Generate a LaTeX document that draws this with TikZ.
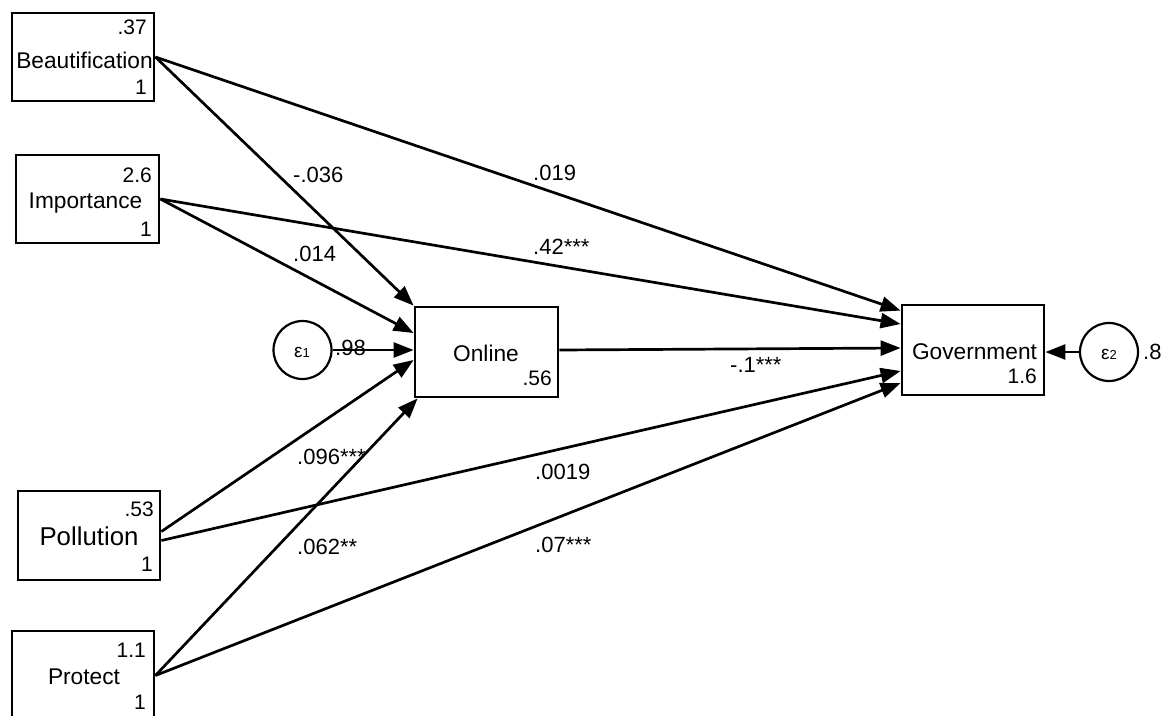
\documentclass[tikz,border=0pt]{standalone}
\usepackage{fontspec}
\setmainfont{Liberation Sans}
\usetikzlibrary{arrows.meta,calc}
\begin{document}
\begin{tikzpicture}[x=1pt,y=-1pt,
  box/.style={draw,line width=2.8pt,minimum width=#1,minimum height=89pt,inner sep=0pt},
  circ/.style={draw,circle,line width=2.2pt,minimum size=58pt,inner sep=0pt},
  arr/.style={line width=2.7pt,-{Triangle[length=20pt,width=15pt]}},
  vname/.style={anchor=base,inner sep=0pt,font=\fontsize{22.7}{25}\selectfont},
  bigvname/.style={anchor=base,inner sep=0pt,font=\fontsize{25.8}{28}\selectfont},
  topnum/.style={anchor=north east,inner sep=0pt,font=\fontsize{21}{23}\selectfont},
  botnum/.style={anchor=south east,inner sep=0pt,font=\fontsize{21}{23}\selectfont},
  lab/.style={anchor=base west,inner sep=0pt,font=\fontsize{22}{24}\selectfont},
  epstxt/.style={inner sep=0pt,font=\fontsize{19}{19}\selectfont}]
\useasboundingbox (0,0) rectangle (1164,715);
\clip (0,0) rectangle (1164,715);
\fill[white] (0,0) rectangle (1164,715);

% boxes
\node[box=142pt,minimum height=88pt] (beau) at (83,57) {};
\node[box=143pt,minimum height=88pt] (imp) at (87.5,199) {};
\node[box=142pt] (pol) at (89,535.5) {};
\node[box=142pt] (pro) at (83,675.5) {};
\node[box=143pt,minimum height=90pt] (onl) at (486.5,352) {};
\node[box=142pt,minimum height=90pt] (gov) at (973,350) {};
\node[circ] (e1) at (302.5,350) {};
\node[circ] (e2) at (1109,352) {};

% texts in boxes
\node[vname] (beaun) at (84.5,68) {Beautification};
\node[topnum] (beaut) at (147,20) {.37};
\node[botnum] (beaub) at (147,95) {1};
\node[vname] (impn) at (85.5,208) {Importance};
\node[topnum] (impt) at (152,168) {2.6};
\node[botnum] (impb) at (152,237) {1};
\node[bigvname] (poln) at (89,545) {Pollution};
\node[topnum] (polt) at (154,502) {.53};
\node[botnum] (polb) at (153,572) {1};
\node[vname] (pron) at (84,684) {Protect};
\node[topnum] (prot) at (146,643) {1.1};
\node[botnum] (prob) at (146,710) {1};
\node[vname] (onln) at (486,361) {Online};
\node[botnum] (onlb) at (552,386) {.56};
\node[vname] (govn) at (974.5,359) {Government};
\node[botnum] (govb) at (1037,384) {1.6};
\node[epstxt] (e1t) at (302,352) {ε\fontsize{13}{13}\selectfont 1};
\node[epstxt] (e2t) at (1109,354) {ε\fontsize{13}{13}\selectfont 2};

% connectors
\draw[arr] (beau.east) -- (onl.north west);
\draw[arr] (beau.east) -- ($(gov.north west)+(0,7)$);
\draw[arr] (imp.east) -- ($(onl.west)+(0,-19)$);
\draw[arr] (imp.east) -- ($(gov.west)+(0,-26)$);
\draw[arr] (e1.east) -- ($(onl.west)+(0,-2)$);
\draw[arr] ($(onl.east)+(0,-2)$) -- ($(gov.west)+(0,-2)$);
\draw[arr] ($(pol.east)+(0,-4)$) -- ($(onl.west)+(0,8)$);
\draw[arr] ($(pol.east)+(0,5)$) -- ($(gov.west)+(0,21)$);
\draw[arr] (pro.east) -- ($(onl.south west)+(4,0)$);
\draw[arr] (pro.east) -- ($(gov.west)+(0,33)$);
\draw[arr] (e2.west) -- (gov.east |- e2.west);

% path labels
\node[lab] (l1) at (293,182) {-.036};
\node[lab] (l2) at (533,180) {.019};
\node[lab] (l3) at (533,254) {.42***};
\node[lab] (l4) at (293,261) {.014};
\node[lab] (l5) at (335,355) {.98};
\node[lab] (l6) at (730,372) {-.1***};
\node[lab] (l7) at (297,464) {.096***};
\node[lab] (l8) at (535,479) {.0019};
\node[lab] (l9) at (297,554) {.062**};
\node[lab] (l10) at (535,552) {.07***};
\node[lab] (l11) at (1143,359) {.8};
\end{tikzpicture}
\end{document}
